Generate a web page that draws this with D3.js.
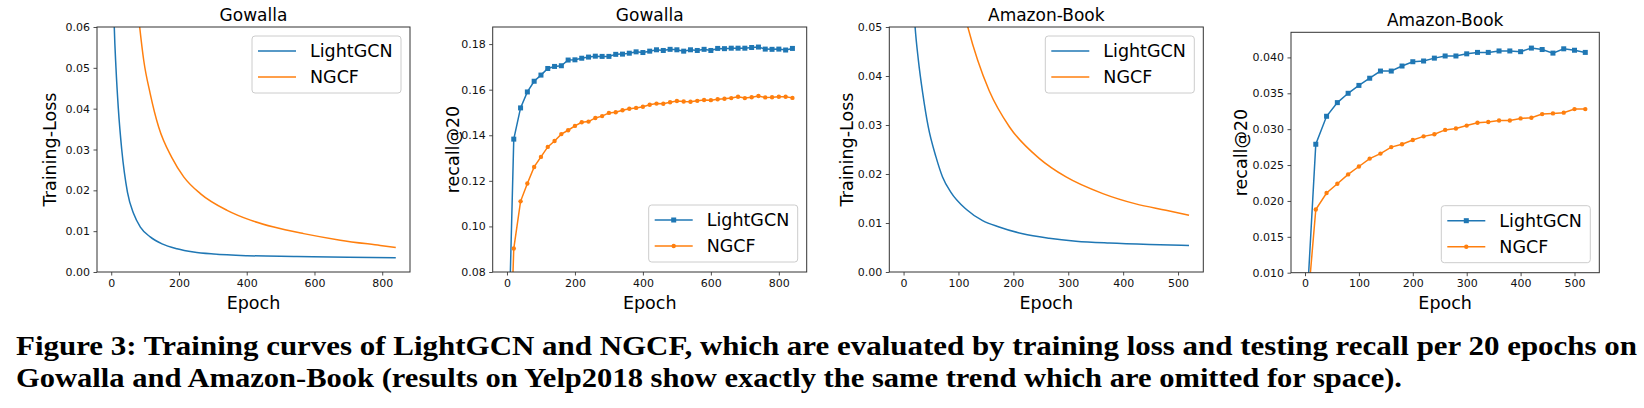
<!DOCTYPE html>
<meta charset="utf-8">
<script src="https://d3js.org/d3.v7.min.js"></script>
<style>
  body { margin: 0; background: #fff; }
  svg text { font-family: "DejaVu Sans", sans-serif; }
  .caption { font-family: "Liberation Serif", serif !important; font-weight: bold; }
</style>
<body></body>
<script>

// ---- data ----

var seriesNames = ["LightGCN", "NGCF"];

// Gowalla training loss (epoch, loss)
var gowLightLossEpoch = [0, 5, 9, 14, 21, 31, 48, 66, 86, 115, 150, 194, 243, 302, 401, 548, 700, 840];
var gowLightLoss      = [0.12, 0.075, 0.06, 0.05, 0.04, 0.03, 0.0195, 0.0143, 0.011, 0.0086, 0.0069, 0.0057, 0.0049, 0.0044, 0.004, 0.0038, 0.0036, 0.0035];
var gowNgcfLossEpoch  = [70, 84, 96, 115, 140, 179, 214, 263, 342, 411, 480, 568, 676, 794, 840];
var gowNgcfLoss       = [0.072, 0.06, 0.0518, 0.0437, 0.0355, 0.028, 0.0233, 0.0192, 0.0151, 0.0127, 0.011, 0.0094, 0.0078, 0.0065, 0.006];

// Amazon-Book training loss (epoch, loss)
var amzLightLossEpoch = [10, 21, 27, 35, 45, 59, 71, 86, 114, 144, 174, 217, 265, 314, 375, 448, 520];
var amzLightLoss      = [0.075, 0.05, 0.0432, 0.0364, 0.0296, 0.0235, 0.0194, 0.0163, 0.0128, 0.0105, 0.0092, 0.0078, 0.0069, 0.0063, 0.0059, 0.0056, 0.0054];
var amzNgcfLossEpoch  = [100, 117, 135, 156, 193, 247, 296, 363, 423, 478, 520];
var amzNgcfLoss       = [0.058, 0.05, 0.0432, 0.037, 0.0296, 0.0232, 0.0194, 0.016, 0.0139, 0.0126, 0.0116];

// recall@20, evaluated every 20 epochs
var gowEpochs = d3.range(0, 841, 20);
var gowLightRecall = [0.022, 0.1383, 0.152, 0.159, 0.1637, 0.1664, 0.1693, 0.1702, 0.1705, 0.173, 0.1731,
  0.1738, 0.1743, 0.1747, 0.1746, 0.1746, 0.1755, 0.1756, 0.176, 0.1766, 0.1763,
  0.1769, 0.1775, 0.1772, 0.1777, 0.1775, 0.1769, 0.1775, 0.1772, 0.1777, 0.1772,
  0.1781, 0.178, 0.1782, 0.1782, 0.1782, 0.1785, 0.1787, 0.1778, 0.1777, 0.1778,
  0.1774, 0.1781];
var gowNgcfRecall = [0.0, 0.0903, 0.111, 0.1188, 0.1261, 0.1305, 0.1349, 0.1375, 0.1405, 0.1422, 0.1441,
  0.1457, 0.146, 0.1476, 0.1484, 0.1498, 0.1501, 0.151, 0.1516, 0.152, 0.1525,
  0.1534, 0.1539, 0.1538, 0.1545, 0.155, 0.1548, 0.1547, 0.1551, 0.1555, 0.1554,
  0.1558, 0.156, 0.1563, 0.1569, 0.1563, 0.1567, 0.1572, 0.1566, 0.1567, 0.1569,
  0.1569, 0.1564];

var amzEpochs = d3.range(0, 521, 20);
var amzLightRecall = [0.0008, 0.0279, 0.0318, 0.0337, 0.035, 0.0361, 0.0371, 0.0381, 0.0381, 0.0388, 0.0394,
  0.0395, 0.0399, 0.0402, 0.0402, 0.0405, 0.0407, 0.0407, 0.0409, 0.0409, 0.0408,
  0.0413, 0.0411, 0.0406, 0.0412, 0.041, 0.0407];
var amzNgcfRecall = [0.0012, 0.0188, 0.0211, 0.0224, 0.0237, 0.0248, 0.0259, 0.0266, 0.0275, 0.0279, 0.0285,
  0.029, 0.0293, 0.0299, 0.0301, 0.0305, 0.0309, 0.031, 0.0312, 0.0312, 0.0315,
  0.0316, 0.0321, 0.0322, 0.0323, 0.0328, 0.0328];

var gowXTicks = [0, 200, 400, 600, 800];
var amzXTicks = [0, 100, 200, 300, 400, 500];
var lossTicksGow = [0, 0.01, 0.02, 0.03, 0.04, 0.05, 0.06];
var lossTicksAmz = [0, 0.01, 0.02, 0.03, 0.04, 0.05];
var recallTicksGow = [0.08, 0.10, 0.12, 0.14, 0.16, 0.18];
var recallTicksAmz = [0.010, 0.015, 0.020, 0.025, 0.030, 0.035, 0.040];

var captionLines = [
  "Figure 3: Training curves of LightGCN and NGCF, which are evaluated by training loss and testing recall per 20 epochs on",
  "Gowalla and Amazon-Book (results on Yelp2018 show exactly the same trend which are omitted for space)."
];

var colors = ["#1f77b4", "#ff7f0e"];

// ---- layout ----

var W = 1644, H = 408;
var svg = d3.select("body").append("svg")
    .attr("width", W)
    .attr("height", H);

function zip(xs, ys) { return xs.map(function(x, i) { return [x, ys[i]]; }); }

var panels = [
  { title: "Gowalla", ylabel: "Training-Loss", box: [97, 27, 410, 272], xdom: [-42, 882], ydom: [0, 0.06],
    xticks: gowXTicks, yticks: lossTicksGow, fmt: ".2f", ylabX: 50, legend: "top", markers: false,
    series: [zip(gowLightLossEpoch, gowLightLoss), zip(gowNgcfLossEpoch, gowNgcfLoss)] },
  { title: "Gowalla", ylabel: "recall@20", box: [492.7, 27, 806.7, 272], xdom: [-42, 882], ydom: [0.08, 0.1875],
    xticks: gowXTicks, yticks: recallTicksGow, fmt: ".2f", ylabX: 453, legend: "bottom", markers: true,
    series: [zip(gowEpochs, gowLightRecall), zip(gowEpochs, gowNgcfRecall)] },
  { title: "Amazon-Book", ylabel: "Training-Loss", box: [889.3, 27, 1203.3, 272], xdom: [-26, 546], ydom: [0, 0.05],
    xticks: amzXTicks, yticks: lossTicksAmz, fmt: ".2f", ylabX: 847, legend: "top", markers: false,
    series: [zip(amzLightLossEpoch, amzLightLoss), zip(amzNgcfLossEpoch, amzNgcfLoss)] },
  { title: "Amazon-Book", ylabel: "recall@20", box: [1291, 32.3, 1599.3, 272.7], xdom: [-26, 546], ydom: [0.01, 0.0435],
    xticks: amzXTicks, yticks: recallTicksAmz, fmt: ".3f", ylabX: 1241, legend: "bottom", markers: true,
    series: [zip(amzEpochs, amzLightRecall), zip(amzEpochs, amzNgcfRecall)] }
];

panels.forEach(function(p, pi) {
  var x0 = p.box[0], y0 = p.box[1], x1 = p.box[2], y1 = p.box[3];
  var xScale = d3.scaleLinear().domain(p.xdom).range([x0, x1]);
  var yScale = d3.scaleLinear().domain(p.ydom).range([y1, y0]);

  var g = svg.append("g");

  // clip
  g.append("clipPath").attr("id", "clip" + pi)
    .append("rect").attr("x", x0).attr("y", y0).attr("width", x1 - x0).attr("height", y1 - y0);

  var line = d3.line()
    .x(function(d) { return xScale(d[0]); })
    .y(function(d) { return yScale(d[1]); });
  if (!p.markers) line.curve(d3.curveMonotoneX);

  var plot = g.append("g").attr("clip-path", "url(#clip" + pi + ")");
  p.series.forEach(function(s, si) {
    plot.append("path")
      .datum(s)
      .attr("fill", "none")
      .attr("stroke", colors[si])
      .attr("stroke-width", 1.5)
      .attr("d", line);
    if (p.markers) {
      if (si === 0) {
        plot.selectAll(".sq" + si).data(s).enter().append("rect")
          .attr("x", function(d) { return xScale(d[0]) - 2.5; })
          .attr("y", function(d) { return yScale(d[1]) - 2.5; })
          .attr("width", 5).attr("height", 5)
          .attr("fill", colors[si]);
      } else {
        plot.selectAll(".ci" + si).data(s).enter().append("circle")
          .attr("cx", function(d) { return xScale(d[0]); })
          .attr("cy", function(d) { return yScale(d[1]); })
          .attr("r", 2.2)
          .attr("fill", colors[si]);
      }
    }
  });

  // axes
  var xAxis = d3.axisBottom(xScale).tickValues(p.xticks).tickFormat(d3.format("d"))
    .tickSizeOuter(0).tickSize(3.5).tickPadding(3.5);
  var yAxis = d3.axisLeft(yScale).tickValues(p.yticks).tickFormat(d3.format(p.fmt))
    .tickSizeOuter(0).tickSize(3.5).tickPadding(3.5);

  var xa = g.append("g").attr("transform", "translate(0," + y1 + ")").call(xAxis);
  var ya = g.append("g").attr("transform", "translate(" + x0 + ",0)").call(yAxis);
  [xa, ya].forEach(function(a) {
    a.select(".domain").remove();
    a.selectAll(".tick line").attr("stroke", "#222").attr("stroke-width", 0.8);
    a.selectAll(".tick text").attr("fill", "#111").style("font-size", "11px");
  });

  // frame
  g.append("rect")
    .attr("x", x0).attr("y", y0).attr("width", x1 - x0).attr("height", y1 - y0)
    .attr("fill", "none").attr("stroke", "#333").attr("stroke-width", 1);

  // title and labels
  g.append("text")
    .attr("x", (x0 + x1) / 2).attr("y", y0 - 6)
    .attr("text-anchor", "middle")
    .style("font-size", "17px")
    .text(p.title);

  g.append("text")
    .attr("x", (x0 + x1) / 2).attr("y", 309)
    .attr("text-anchor", "middle")
    .style("font-size", "17.5px")
    .text("Epoch");

  g.append("text")
    .attr("transform", "translate(" + p.ylabX + "," + ((y0 + y1) / 2) + ") rotate(-90)")
    .attr("dy", "0.35em")
    .attr("text-anchor", "middle")
    .style("font-size", "17.5px")
    .text(p.ylabel);

  // legend
  var lw = 149, lh = 57;
  var lx = x1 - 9 - lw;
  var ly = p.legend === "top" ? y0 + 9 : y1 - 10 - lh;
  var lg = g.append("g").attr("transform", "translate(" + lx + "," + ly + ")");
  lg.append("rect").attr("width", lw).attr("height", lh).attr("rx", 3)
    .attr("fill", "#fff").attr("fill-opacity", 0.8)
    .attr("stroke", "#ccc").attr("stroke-width", 1);
  seriesNames.forEach(function(name, si) {
    var cy = 15 + si * 26;
    lg.append("line").attr("x1", 6).attr("x2", 44).attr("y1", cy).attr("y2", cy)
      .attr("stroke", colors[si]).attr("stroke-width", 1.5);
    if (p.markers) {
      if (si === 0) {
        lg.append("rect").attr("x", 25 - 2.5).attr("y", cy - 2.5).attr("width", 5).attr("height", 5).attr("fill", colors[si]);
      } else {
        lg.append("circle").attr("cx", 25).attr("cy", cy).attr("r", 2.2).attr("fill", colors[si]);
      }
    }
    lg.append("text").attr("x", 58).attr("y", cy).attr("dy", "0.36em")
      .style("font-size", "17.5px")
      .text(name);
  });
});

// caption
var capEnds = [1637, 1402];
captionLines.forEach(function(t, i) {
  svg.append("text")
    .attr("class", "caption")
    .attr("x", 16)
    .attr("y", 355 + i * 32)
    .attr("textLength", capEnds[i] - 16)
    .attr("lengthAdjust", "spacingAndGlyphs")
    .style("font-size", "28px")
    .text(t);
});

</script>
